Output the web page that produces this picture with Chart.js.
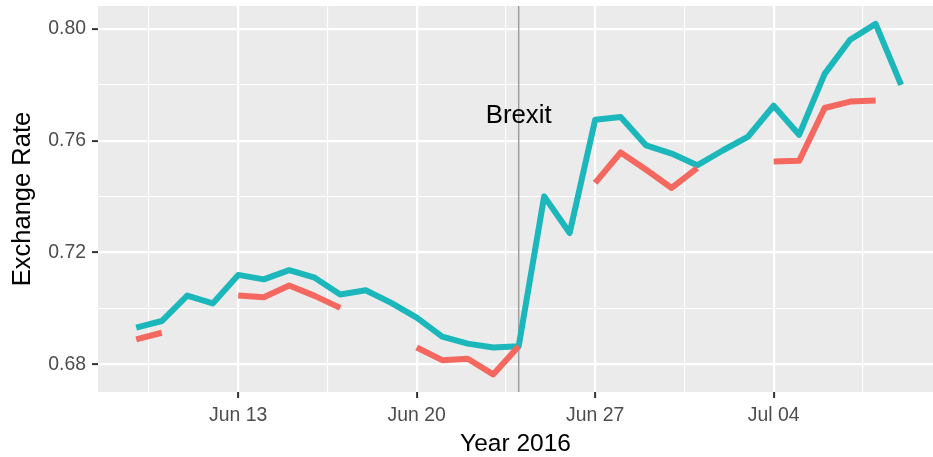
<!DOCTYPE html>
<html>
<head>
<meta charset="utf-8">
<script src="https://cdn.jsdelivr.net/npm/chart.js@4/dist/chart.umd.min.js"></script>
<style>
  body { margin: 0; background: #fff; }
  #wrap { width: 933px; height: 457px; }
</style>
</head>
<body>
<div id="wrap"><canvas id="rateChart"></canvas></div>
<script>
// GBP exchange rate around the Brexit vote

const dates = [
	"2016-06-09", "2016-06-10", "2016-06-11", "2016-06-12", "2016-06-13", "2016-06-14", "2016-06-15",
	"2016-06-16", "2016-06-17", "2016-06-18", "2016-06-19", "2016-06-20", "2016-06-21", "2016-06-22",
	"2016-06-23", "2016-06-24", "2016-06-25", "2016-06-26", "2016-06-27", "2016-06-28", "2016-06-29",
	"2016-06-30", "2016-07-01", "2016-07-02", "2016-07-03", "2016-07-04", "2016-07-05", "2016-07-06",
	"2016-07-07", "2016-07-08", "2016-07-09"
];

// teal line, every day
const dailyRate = [
	0.6931, 0.6955, 0.7046, 0.7018, 0.7120, 0.7104, 0.7137,
	0.7110, 0.7050, 0.7065, 0.7020, 0.6967, 0.6899, 0.6874,
	0.6860, 0.6865, 0.7401, 0.7270, 0.7675, 0.7685, 0.7583,
	0.7554, 0.7512, 0.7565, 0.7615, 0.7725, 0.7621, 0.7839,
	0.7961, 0.8018, 0.7800
];

// red line, weekdays only
const weekdayRate = [
	0.6889, 0.6913, null, null, 0.7046, 0.7040, 0.7082,
	0.7045, 0.7002, null, null, 0.6860, 0.6815, 0.6820,
	0.6764, 0.6865, null, null, 0.7449, 0.7558, 0.7496,
	0.7431, 0.7502, null, null, 0.7526, 0.7528, 0.7717,
	0.7740, 0.7744, null
];

const xTickDates = ["2016-06-13", "2016-06-20", "2016-06-27", "2016-07-04"];
const xTickLabels = ["Jun 13", "Jun 20", "Jun 27", "Jul 04"];
const yTicks = [0.68, 0.70, 0.72, 0.74, 0.76, 0.78, 0.80];

const brexitDate = "2016-06-24";
const brexitLabelY = 0.7690;

const FONT = '"Liberation Sans", Arial, Helvetica, sans-serif';
const TEAL = "#1bb7ba";
const RED = "#f4685f";

const refTime = Date.parse(xTickDates[0]);
const toDay = (d) => (Date.parse(d) - refTime) / 86400000;

const majorX = xTickDates.map(toDay);
const minorX = [];
for (let i = 0; i <= majorX.length; i++) {
	const prev = i > 0 ? majorX[i - 1] : majorX[0] - 7;
	minorX.push(prev + 3.5);
}
const isMajorX = (v) => majorX.includes(v);
const isMajorY = (v) => Math.round(v * 100) % 4 === 0;

const dailyPoints = dates.map((d, i) => ({ x: toDay(d), y: dailyRate[i] }));
const weekdayPoints = dates.map((d, i) => ({ x: toDay(d), y: weekdayRate[i] }));

// no extra room for half labels at the ends of the axes
function noEdgePadding(scale) {
	scale.paddingTop = 0;
	scale.paddingBottom = 0;
	scale.paddingLeft = 0;
	scale.paddingRight = 0;
}

const panelBackground = {
	id: "panelBackground",
	beforeDraw(chart) {
		const { ctx, chartArea } = chart;
		ctx.save();
		ctx.fillStyle = "#ebebeb";
		ctx.fillRect(chartArea.left, chartArea.top, chartArea.right - chartArea.left, chartArea.bottom - chartArea.top);
		ctx.restore();
	},
};

const brexitMarker = {
	id: "brexitMarker",
	beforeDatasetsDraw(chart) {
		const { ctx, chartArea, scales } = chart;
		const x = scales.x.getPixelForValue(toDay(brexitDate));
		ctx.save();
		ctx.strokeStyle = "#9e9e9e";
		ctx.lineWidth = 1.5;
		ctx.beginPath();
		ctx.moveTo(x, chartArea.top);
		ctx.lineTo(x, chartArea.bottom);
		ctx.stroke();
		ctx.restore();
	},
	afterDatasetsDraw(chart) {
		const { ctx, scales } = chart;
		const x = scales.x.getPixelForValue(toDay(brexitDate));
		const y = scales.y.getPixelForValue(brexitLabelY);
		ctx.save();
		ctx.fillStyle = "#000";
		ctx.font = "25.8px " + FONT;
		ctx.textAlign = "center";
		ctx.textBaseline = "middle";
		ctx.fillText("Brexit", x, y);
		ctx.restore();
	},
};

const rateChart = new Chart(document.getElementById("rateChart"), {
	type: "line",
	data: {
		datasets: [
			{
				label: "Weekdays",
				data: weekdayPoints,
				borderColor: RED,
				borderWidth: 6,
				pointRadius: 0,
				spanGaps: false,
				borderCapStyle: "butt",
				borderJoinStyle: "round",
				order: 0,
			},
			{
				label: "Daily",
				data: dailyPoints,
				borderColor: TEAL,
				borderWidth: 6,
				pointRadius: 0,
				borderCapStyle: "butt",
				borderJoinStyle: "round",
				order: 1,
			},
		],
	},
	options: {
		responsive: true,
		maintainAspectRatio: false,
		animation: false,
		layout: { padding: { top: 6, right: 0, bottom: 0, left: 0 } },
		plugins: {
			legend: { display: false },
			tooltip: { enabled: false },
		},
		scales: {
			x: {
				type: "linear",
				min: -5.5,
				max: 27.25,
				afterBuildTicks(scale) {
					scale.ticks = majorX.concat(minorX).sort((a, b) => a - b).map((v) => ({ value: v }));
				},
				afterFit(scale) {
					scale.height = 65;
					noEdgePadding(scale);
				},
				border: { display: false },
				grid: {
					color: "#ffffff",
					lineWidth: (c) => (isMajorX(c.tick.value) ? 2.2 : 1.1),
					tickColor: (c) => (isMajorX(c.tick.value) ? "#333333" : "rgba(0,0,0,0)"),
					tickLength: 6,
					tickWidth: 2,
				},
				ticks: {
					autoSkip: false,
					maxRotation: 0,
					padding: 6,
					color: "#4d4d4d",
					font: { family: FONT, size: 19.4 },
					callback: (v) => {
						const i = majorX.indexOf(v);
						return i >= 0 ? xTickLabels[i] : "";
					},
				},
				title: {
					display: true,
					text: "Year 2016",
					color: "#000",
					font: { family: FONT, size: 24.5, lineHeight: 1.05 },
					padding: { top: 0, bottom: 0 },
				},
			},
			y: {
				min: 0.6701,
				max: 0.8082,
				afterBuildTicks(scale) {
					scale.ticks = yTicks.map((v) => ({ value: v }));
				},
				afterFit(scale) {
					scale.width = 98;
					noEdgePadding(scale);
				},
				border: { display: false },
				grid: {
					color: "#ffffff",
					lineWidth: (c) => (isMajorY(c.tick.value) ? 2.2 : 1.1),
					tickColor: (c) => (isMajorY(c.tick.value) ? "#333333" : "rgba(0,0,0,0)"),
					tickLength: 6,
					tickWidth: 2,
				},
				ticks: {
					padding: 6,
					color: "#4d4d4d",
					font: { family: FONT, size: 19.4 },
					callback: (v) => (isMajorY(v) ? v.toFixed(2) : ""),
				},
				title: {
					display: true,
					text: "Exchange Rate",
					color: "#000",
					font: { family: FONT, size: 25.5 },
					padding: { top: 8, bottom: 0 },
				},
			},
		},
	},
	plugins: [panelBackground, brexitMarker],
});
</script>
</body>
</html>
